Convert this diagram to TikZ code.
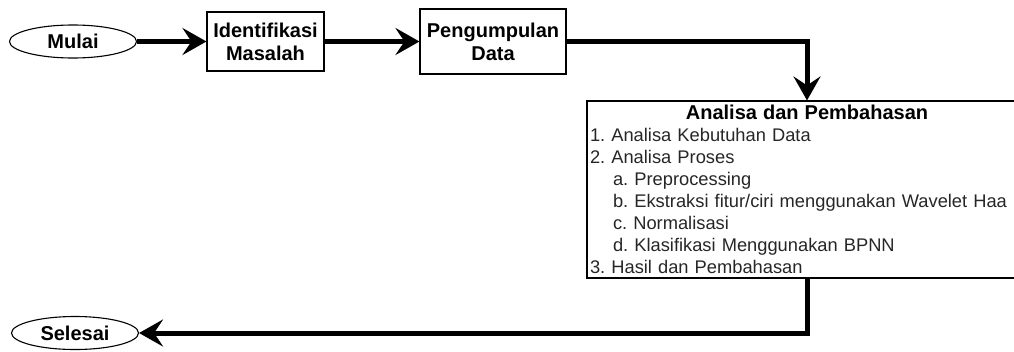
\documentclass[tikz,border=0pt]{standalone}
\usepackage{fontspec}
\setmainfont{Liberation Sans}
\usetikzlibrary{arrows.meta,positioning,shapes.geometric}
\frenchspacing

\begin{document}
\begin{tikzpicture}[x=1pt,y=-1pt,
    terminal/.style={ellipse,draw,line width=1.1pt,minimum width=127pt,minimum height=33pt,inner sep=0pt,
      font=\fontsize{20}{23}\selectfont\bfseries},
    stepbox/.style={rectangle,draw,line width=1.1pt,align=center,inner sep=0pt,
      font=\fontsize{20}{23}\selectfont\bfseries},
    flow/.style={line width=5pt,-{Stealth[length=24pt,width=27pt,inset=9pt]}}]
  \clip (0,0) rectangle (1014,351);
  % start and the two first steps
  \node[terminal] (mulai) at (73,41.5) {Mulai};
  \node[stepbox,minimum width=117pt,minimum height=59pt] (masalah) at (265.5,41.5) {Identifikasi\\Masalah};
  \node[stepbox,minimum width=146pt,minimum height=65pt] (data) at (493,41.5) {Pengumpulan\\Data};
  % analysis box
  \node[rectangle,draw,line width=1.1pt,minimum width=440pt,minimum height=177pt,inner xsep=3pt,inner ysep=1pt,
    text width=434pt,align=left,text=black!85,font=\fontsize{18.3}{22}\selectfont] (analisa) at (807,189.5)
    {\makebox[434pt][c]{\textcolor{black}{\fontsize{20}{22}\selectfont\bfseries Analisa dan Pembahasan}}\\
     1. Analisa Kebutuhan Data\\
     2. Analisa Proses\\
     \hspace*{23pt}a. Preprocessing\\
     \hspace*{23pt}\mbox{b. Ekstraksi fitur/ciri menggunakan Wavelet Haa}\\
     \hspace*{23pt}c. Normalisasi\\
     \hspace*{23pt}d. Klasifikasi Menggunakan BPNN\\
     3. Hasil dan Pembahasan};
  \node[terminal] (selesai) at (75,333) {Selesai};
  % connectors
  \draw[flow] (mulai.east) -- (masalah.west);
  \draw[flow] (masalah.east) -- (data.west);
  \draw[flow] (data.east) -| (analisa.north);
  \draw[flow] (analisa.south) |- (selesai.east);
\end{tikzpicture}
\end{document}
